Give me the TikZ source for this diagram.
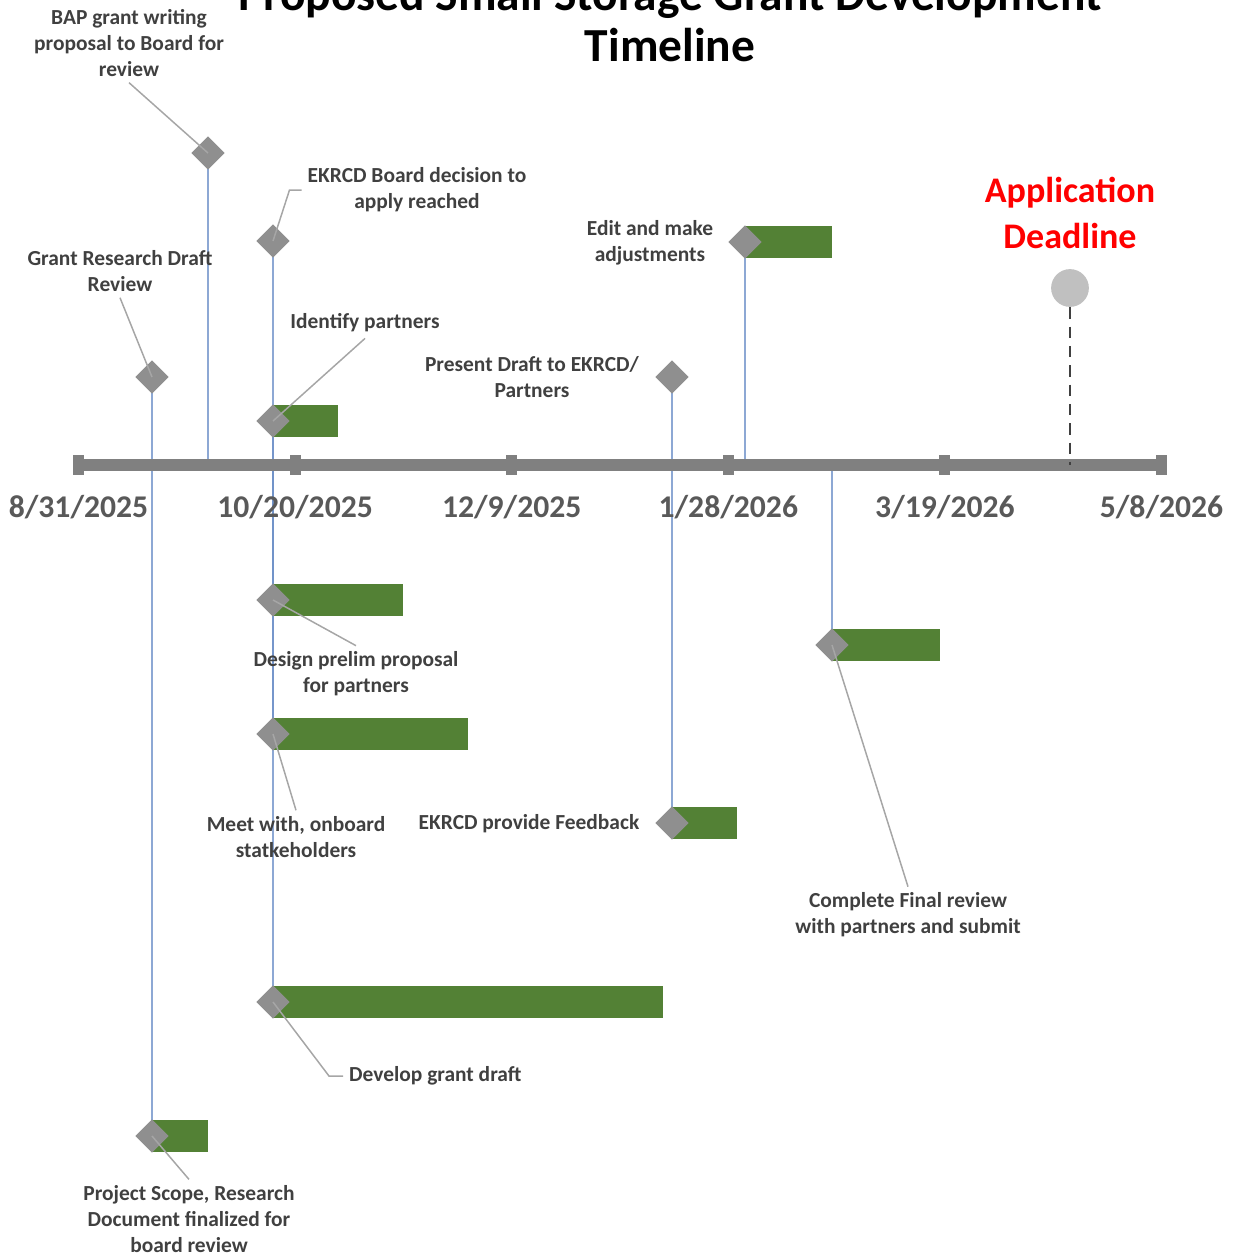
\documentclass[tikz,border=0pt]{standalone}
\usepackage{fontspec}
\setmainfont{Carlito}
\usepackage{tikz}
\usetikzlibrary{shapes.geometric}
\usetikzlibrary{backgrounds}
\usetikzlibrary{calc}
\definecolor{stemblue}{RGB}{112,146,201}
\definecolor{bargreen}{RGB}{83,129,53}
\definecolor{msgray}{RGB}{143,143,143}
\definecolor{leadgray}{RGB}{166,166,166}
\definecolor{txtgray}{RGB}{64,64,64}
\definecolor{axgray}{RGB}{128,128,128}
\definecolor{datgray}{RGB}{89,89,89}
\definecolor{dlgray}{RGB}{192,192,192}

\begin{document}
\begin{tikzpicture}[x=0.02cm,y=-0.02cm,
	ms/.style={diamond,fill=msgray,inner sep=0pt,minimum size=19pt},
	lbl/.style={align=center,text=txtgray,font=\fontsize{12.2}{14.7}\selectfont\bfseries},
	lead/.style={draw=leadgray,line width=0.85pt},
	stem/.style={draw=stemblue,line width=1.1pt,draw opacity=0.8},
	bar/.style={fill=bargreen}]
\useasboundingbox (0,0) rectangle (1236,1255);
\node[font=\fontsize{27}{29}\selectfont\bfseries,align=center] (title) at (670,20) {Proposed Small Storage Grant Development\\Timeline};

\coordinate (ax) at (0,465);
\fill[axgray] (73,459) rectangle (1167,471);
\foreach \dt [count=\i from 0] in {8/31/2025,10/20/2025,12/9/2025,1/28/2026,3/19/2026,5/8/2026} {
	\fill[axgray] ({73+\i*216.6},455) rectangle ++(11,20);
	\node[font=\fontsize{18}{20}\selectfont\bfseries,text=datgray] (d\i) at ({78.5+\i*216.6},507) {\dt};
}

\node[ms] (grd) at (152,377) {};
\node[ms] (bap) at (208,153) {};
\node[ms] (brd) at (273,241) {};
\node[ms] (idp) at (273,421) {};
\node[ms] (pdr) at (672,377) {};
\node[ms] (edt) at (745,242) {};
\node[ms] (dsg) at (273,600) {};
\node[ms] (mtw) at (273,734) {};
\node[ms] (fbk) at (672,823) {};
\node[ms] (cfr) at (832,645) {};
\node[ms] (dgd) at (273,1002) {};
\node[ms] (psc) at (152,1136) {};

\begin{scope}[on background layer]
\foreach \m in {grd,bap,brd,idp,pdr,edt,dsg,mtw,fbk,cfr,dgd,psc}
	\draw[stem] (\m.center) -- (\m |- ax);
\foreach \m/\w in {idp/65,edt/87,dsg/130,mtw/195,fbk/65,cfr/108,dgd/390,psc/56}
	\fill[bar] (\m.center) ++(0,-16) rectangle ++(\w,32);
\end{scope}

\node[circle,fill=dlgray,inner sep=0pt,minimum size=21.5pt] (dl) at (1070,288) {};
\draw[dashed,dash pattern=on 6.5pt off 4.5pt,line width=1pt,txtgray] (dl) -- (dl |- ax);
\node[font=\fontsize{20.5}{26}\selectfont\bfseries,text=red,align=center] (ldl) at (1070,213) {Application\\Deadline};

\node[lbl] (lbap) at (129,43) {BAP grant writing\\proposal to Board for\\review};
\node[lbl] (lgrd) at (120,271) {Grant Research Draft\\Review};
\node[lbl] (lbrd) at (417,190) {EKRCD Board decision to\\apply reached};
\node[lbl] (lidp) at (365,323) {Identify partners};
\node[lbl] (lpdr) at (532,377) {Present Draft to EKRCD/\\Partners};
\node[lbl] (ledt) at (650,243) {Edit and make\\adjustments};
\node[lbl] (ldsg) at (356,674) {Design prelim proposal\\for partners};
\node[lbl] (lmtw) at (296,837) {Meet with, onboard\\statkeholders};
\node[lbl] (lfbk) at (529,824) {EKRCD provide Feedback};
\node[lbl] (lcfr) at (908,915) {Complete Final review\\with partners and submit};
\node[lbl,anchor=west] (ldgd) at (343,1076) {Develop grant draft};
\node[lbl] (lpsc) at (189,1219) {Project Scope, Research\\Document finalized for\\board review};

\draw[lead] (lbap.south) -- (bap.center);
\draw[lead] (lgrd.south) -- (grd.center);
\draw[lead] (lbrd.west) -- ++(-12,0) -- (brd.center);
\draw[lead] (lidp.south) -- (idp.center);
\draw[lead] (ldsg.north) -- (dsg.center);
\draw[lead] (lmtw.north) -- (mtw.center);
\draw[lead] (lcfr.north) -- (cfr.center);
\draw[lead] (ldgd.west) -- ++(-14,0) -- (dgd.center);
\draw[lead] (lpsc.north) -- (psc.center);
\end{tikzpicture}
\end{document}
